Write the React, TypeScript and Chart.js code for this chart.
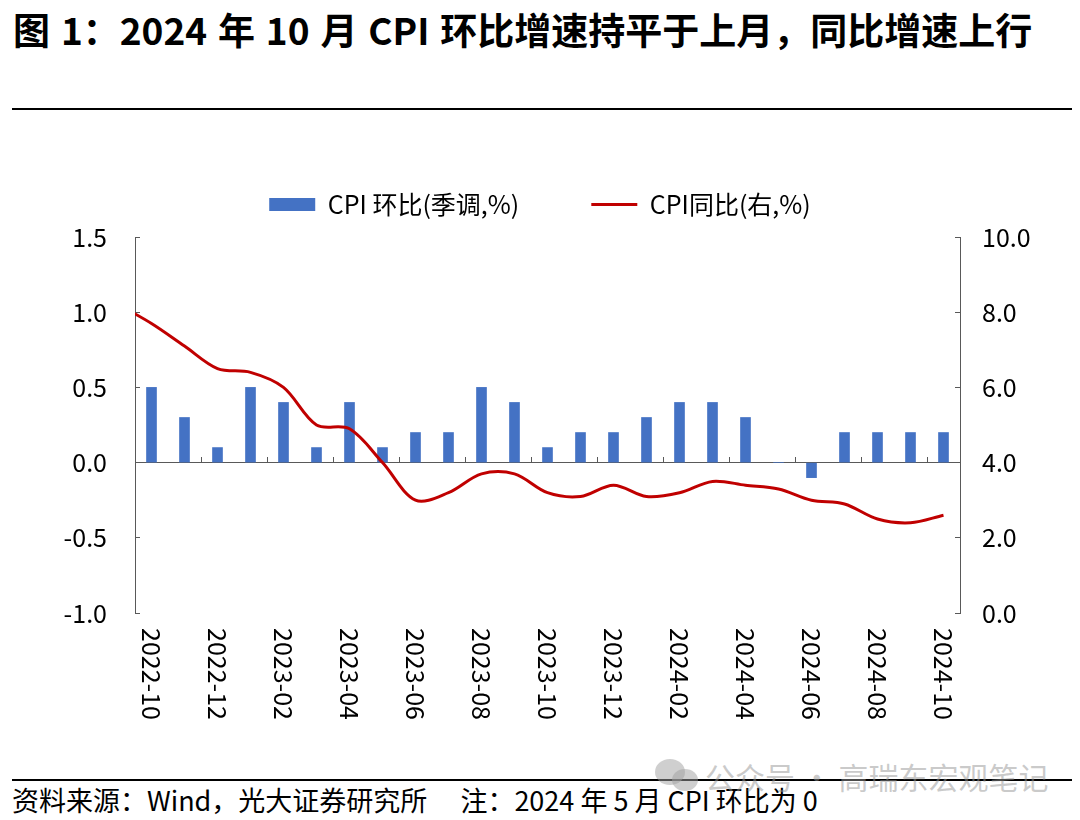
import { useEffect, useRef } from "react";
import { Chart, registerables } from "chart.js";

Chart.register(...registerables);

// 月份（柱状图类目）
const months = [
  "2022-10", "2022-11", "2022-12", "2023-01", "2023-02", "2023-03", "2023-04",
  "2023-05", "2023-06", "2023-07", "2023-08", "2023-09", "2023-10", "2023-11",
  "2023-12", "2024-01", "2024-02", "2024-03", "2024-04", "2024-05", "2024-06",
  "2024-07", "2024-08", "2024-09", "2024-10",
];

// CPI 环比(季调,%)
const momSA = [
  0.5, 0.3, 0.1, 0.5, 0.4, 0.1, 0.4, 0.1, 0.2, 0.2, 0.5, 0.4, 0.1, 0.2, 0.2,
  0.3, 0.4, 0.4, 0.3, 0, -0.1, 0.2, 0.2, 0.2, 0.2,
];

// CPI同比(右,%)，从 2022-09 开始，第一个点落在绘图区左侧外面被裁掉
const yoyMonths = ["2022-09", ...months];
const yoy = [
  8.2, 7.7, 7.1, 6.5, 6.4, 6.0, 5.0, 4.9, 4.0, 3.0, 3.2, 3.7, 3.7, 3.2, 3.1,
  3.4, 3.1, 3.2, 3.5, 3.4, 3.3, 3.0, 2.9, 2.5, 2.4, 2.6,
];

const leftAxis = { min: -1, max: 1.5, step: 0.5 };
const rightAxis = { min: 0, max: 10, step: 2 };

const FONT = '"Noto Sans CJK SC", "Noto Sans", sans-serif';
const AXIS = "#595959";
const BLUE = "#4472C4";
const RED = "#C00000";

// 竖排的横轴标签（从上往下读），每两个月一个
const xLabelPlugin = {
  id: "xLabels",
  afterDraw(chart: any) {
    const sc = chart.scales.x;
    const { ctx, chartArea } = chart;
    ctx.save();
    ctx.font = `25px ${FONT}`;
    ctx.fillStyle = "#000";
    ctx.textAlign = "left";
    ctx.textBaseline = "middle";
    months.forEach((m, i) => {
      if (i % 2 !== 0) return;
      const x = sc.getPixelForValue(i);
      ctx.save();
      ctx.translate(x, chartArea.bottom + 15);
      ctx.rotate(Math.PI / 2);
      ctx.fillText(m, 0, 0);
      ctx.restore();
    });
    ctx.restore();
  },
};

// 固定图例高度，让绘图区从固定位置开始
const legendHeightPlugin = {
  id: "legendHeight",
  beforeInit(chart: any) {
    const fit = chart.legend.fit;
    chart.legend.fit = function () {
      fit.call(this);
      this.height = 117;
    };
  },
};

export default function App() {
  const canvasRef = useRef<HTMLCanvasElement | null>(null);
  const chartRef = useRef<Chart | null>(null);

  useEffect(() => {
    if (!canvasRef.current) return;
    if (chartRef.current) chartRef.current.destroy();

    chartRef.current = new Chart(canvasRef.current, {
      type: "bar",
      data: {
        datasets: [
          {
            type: "bar",
            label: "CPI 环比(季调,%)",
            data: momSA.map((v, i) => ({ x: i, y: v })),
            backgroundColor: BLUE,
            borderWidth: 0,
            barThickness: 10,
            grouped: false,
            pointStyle: "rect",
            xAxisID: "x",
            yAxisID: "y",
            order: 1,
          } as any,
          {
            type: "line",
            label: "CPI同比(右,%)",
            data: yoy.map((v, i) => ({ x: i - 1, y: v })),
            borderColor: RED,
            backgroundColor: RED,
            borderWidth: 3,
            pointRadius: 0,
            pointBorderWidth: 3,
            pointStyle: "line",
            tension: 0.33,
            xAxisID: "x",
            yAxisID: "y2",
            order: 0,
          } as any,
        ],
      },
      options: {
        responsive: true,
        maintainAspectRatio: false,
        animation: false,
        events: [],
        layout: { padding: { left: 0, right: 0, top: 0, bottom: 107 } },
        plugins: {
          tooltip: { enabled: false },
          legend: {
            position: "top",
            labels: {
              usePointStyle: true,
              pointStyleWidth: 46,
              boxHeight: 13,
              padding: 72,
              color: "#000",
              font: { size: 25, family: FONT },
              sort: (a: any, b: any) => a.datasetIndex - b.datasetIndex,
            },
          },
        },
        scales: {
          x: {
            type: "linear",
            display: false,
            offset: false,
            min: -0.5,
            max: months.length - 0.5,
          },
          x0: {
            type: "category",
            axis: "x",
            position: { y: 0 },
            labels: months,
            offset: true,
            ticks: { display: false },
            grid: {
              offset: true,
              drawOnChartArea: false,
              drawTicks: true,
              tickLength: -6,
              color: (c: any) =>
                c.index > 0 && c.index % 2 === 0 && c.index <= 24 ? AXIS : "rgba(0,0,0,0)",
            },
            border: { display: true, color: AXIS, width: 1 },
          },
          y: {
            type: "linear",
            position: "left",
            min: leftAxis.min,
            max: leftAxis.max,
            ticks: {
              stepSize: leftAxis.step,
              padding: 33,
              color: "#000",
              font: { size: 25, family: FONT },
              callback: (v: any) => Number(v).toFixed(1),
            },
            grid: { drawOnChartArea: false, drawTicks: true, tickLength: -5, color: AXIS },
            border: { display: true, color: AXIS, width: 1 },
            afterFit: (s: any) => {
              s.width = 135;
            },
          },
          y2: {
            type: "linear",
            position: "right",
            min: rightAxis.min,
            max: rightAxis.max,
            ticks: {
              stepSize: rightAxis.step,
              padding: 27,
              color: "#000",
              font: { size: 25, family: FONT },
              callback: (v: any) => Number(v).toFixed(1),
            },
            grid: { drawOnChartArea: false, drawTicks: true, tickLength: -5, color: AXIS },
            border: { display: true, color: AXIS, width: 1 },
            afterFit: (s: any) => {
              s.width = 120;
            },
          },
        },
      } as any,
      plugins: [xLabelPlugin, legendHeightPlugin],
    });

    return () => {
      if (chartRef.current) {
        chartRef.current.destroy();
        chartRef.current = null;
      }
    };
  }, []);

  return (
    <div
      style={{
        position: "fixed",
        left: 0,
        top: 0,
        width: 1080,
        height: 820,
        background: "#fff",
        fontFamily: FONT,
        color: "#000",
        overflow: "hidden",
      }}
    >
      <div
        style={{
          position: "absolute",
          left: 13,
          top: 11,
          fontSize: 37,
          lineHeight: "37px",
          fontWeight: 700,
          wordSpacing: "2.5px",
          whiteSpace: "nowrap",
        }}
      >
        图 1：2024 年 10 月 CPI 环比增速持平于上月，同比增速上行
      </div>
      <div style={{ position: "absolute", left: 12, top: 108, width: 1060, height: 2, background: "#000" }} />

      <div style={{ position: "absolute", left: 0, top: 120, width: 1080, height: 600 }}>
        <canvas ref={canvasRef} />
      </div>

      <div style={{ position: "absolute", left: 12, top: 779, width: 1060, height: 2, background: "#000" }} />
      <div
        style={{
          position: "absolute",
          left: 12,
          top: 786,
          fontSize: 27,
          lineHeight: "27px",
          whiteSpace: "nowrap",
        }}
      >
        资料来源：Wind，光大证券研究所　 注：2024 年 5 月 CPI 环比为 0
      </div>

      <div style={{ position: "absolute", left: 655, top: 759, width: 30, height: 26, borderRadius: "50%", background: "rgba(160,160,160,0.5)" }} />
      <div style={{ position: "absolute", left: 672, top: 769, width: 26, height: 22, borderRadius: "50%", background: "rgba(160,160,160,0.5)" }} />
      <div
        style={{
          position: "absolute",
          left: 705,
          top: 761,
          fontSize: 30,
          lineHeight: "30px",
          color: "rgba(150,150,150,0.5)",
          whiteSpace: "nowrap",
        }}
      >
        公众号 · 高瑞东宏观笔记
      </div>
    </div>
  );
}
